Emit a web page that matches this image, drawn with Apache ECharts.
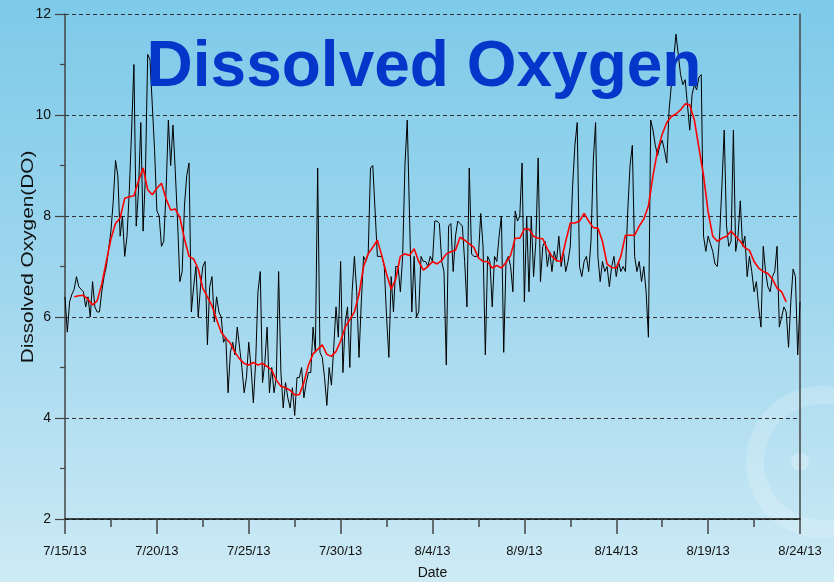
<!DOCTYPE html>
<html><head><meta charset="utf-8">
<script src="https://cdn.jsdelivr.net/npm/echarts/dist/echarts.min.js"></script>
<style>html,body{margin:0;padding:0;width:834px;height:582px;overflow:hidden}#c{width:834px;height:582px}</style>
</head><body><div id="c"></div><script>
// ---- data ----
const chartTitle = 'Dissolved Oxygen';
const yAxisTitle = 'Dissolved Oxygen(DO)';
const xAxisTitle = 'Date';
const startDateUTC = [2013, 6, 15];   // 7/15/13
const xMaxDays = 40;
const xTickDays = 5;
const yMin = 2, yMax = 12, yStep = 2;

// raw DO readings, one every 3 hours (0.125 day) from 7/15/13 00:00
const doStepDays = 0.125;
const doValues = [
 6.4,5.7,6.3,6.45,6.55,6.8,6.6,6.55,
 6.5,6.2,6.4,6.0,6.7,6.2,6.1,6.1,
 6.5,6.8,7.0,7.35,7.7,8.3,9.1,8.8,
 7.6,8.0,7.2,7.6,8.5,9.7,11.0,7.8,
 8.5,9.85,7.7,8.8,11.2,11.1,10.2,9.3,
 8.1,8.0,7.4,7.5,8.5,9.9,9.0,9.8,
 8.9,7.9,6.7,6.9,8.2,8.8,9.05,6.1,
 6.6,7.0,6.0,6.6,7.0,7.1,5.45,6.6,
 6.8,5.9,6.4,6.1,6.0,5.5,5.6,4.5,
 5.3,5.5,5.25,5.8,5.4,5.0,4.5,4.8,
 5.5,5.0,4.3,5.1,6.5,6.9,4.7,5.1,
 5.8,4.5,5.0,4.5,4.8,6.9,4.9,4.2,
 4.7,4.4,4.2,4.6,4.05,4.8,4.8,5.0,
 4.4,4.7,4.9,4.9,5.8,5.3,8.95,5.3,
 5.2,4.8,4.25,5.0,4.65,5.4,6.2,5.6,
 7.1,4.9,5.9,6.2,5.0,6.5,7.2,6.5,
 5.2,6.3,7.2,7.1,7.25,8.95,9.0,8.1,
 7.2,7.2,7.2,7.0,6.0,5.2,6.8,6.1,
 7.0,7.0,6.5,7.2,9.0,9.9,8.0,6.1,
 7.2,6.0,6.1,7.2,7.1,7.1,7.0,7.2,
 7.1,7.9,7.9,7.85,7.1,6.9,5.05,7.8,
 7.85,6.9,7.6,7.9,7.85,7.8,7.1,6.2,
 8.95,7.25,7.2,7.2,7.2,8.05,7.4,5.25,
 7.2,7.1,6.2,7.2,7.1,7.6,8.0,5.3,
 7.1,7.2,7.0,6.5,8.1,7.9,8.0,9.05,
 6.3,8.0,6.5,8.0,6.8,7.5,9.15,6.7,
 7.4,7.5,7.0,7.3,6.9,7.3,7.1,7.6,
 7.0,7.3,6.9,7.1,7.4,8.6,9.4,9.85,
 7.0,6.8,7.1,7.2,6.9,7.5,9.1,9.85,
 7.2,6.7,7.1,6.9,7.0,6.6,7.0,7.2,
 6.8,7.1,6.9,7.0,6.9,8.1,9.0,9.4,
 7.2,6.9,7.1,6.7,7.0,6.5,5.6,9.9,
 9.7,9.4,9.2,9.4,9.5,9.3,9.05,10.1,
 10.6,11.1,11.6,11.2,10.8,10.6,10.7,10.2,
 9.7,10.4,10.6,10.5,10.75,10.8,7.6,7.3,
 7.6,7.45,7.3,7.05,7.0,7.6,8.6,9.7,
 7.8,7.4,7.5,9.7,7.3,7.6,8.3,7.4,
 7.6,6.8,7.2,6.9,6.5,6.7,6.2,5.8,
 7.4,6.9,6.6,6.5,6.8,6.9,7.4,5.8,
 6.0,6.2,6.1,5.4,6.3,6.95,6.8,5.25,
 6.3
];

// daily moving average, every 6 hours (0.25 day) from 7/15/13 12:00
const maStartDay = 0.5;
const maStepDays = 0.25;
const maValues = [
 6.4,6.42,6.43,6.35,6.24,6.32,6.65,7.1,7.55,7.85,
 7.96,8.35,8.38,8.4,8.7,8.95,8.52,8.42,8.55,8.65,
 8.34,8.12,8.14,7.97,7.55,7.2,7.15,6.95,6.57,6.4,
 6.22,5.95,5.7,5.58,5.48,5.3,5.17,5.08,5.05,5.1,
 5.05,5.08,5.02,4.95,4.75,4.63,4.6,4.55,4.46,4.46,
 4.7,5.05,5.27,5.36,5.45,5.26,5.22,5.32,5.52,5.8,
 5.95,6.1,6.45,7.0,7.25,7.38,7.52,7.2,6.85,6.55,
 6.75,7.2,7.25,7.22,7.35,7.1,6.93,7.0,7.1,7.05,
 7.12,7.25,7.29,7.32,7.58,7.52,7.45,7.38,7.17,7.1,
 7.1,6.97,7.02,6.97,7.08,7.22,7.56,7.56,7.74,7.74,
 7.6,7.56,7.55,7.35,7.2,7.12,7.1,7.5,7.86,7.86,
 7.9,8.05,7.9,7.77,7.76,7.5,7.05,6.98,6.97,7.2,
 7.62,7.62,7.62,7.8,7.94,8.2,8.8,9.3,9.62,9.85,
 9.97,10.02,10.1,10.22,10.2,9.9,9.35,8.8,8.08,7.6,
 7.5,7.56,7.6,7.7,7.6,7.5,7.37,7.32,7.1,6.97,
 6.9,6.86,6.75,6.57,6.5,6.3
];

// ---- chart ----
function dayLabel(d){
  const dt = new Date(Date.UTC(startDateUTC[0], startDateUTC[1], startDateUTC[2] + Math.round(d)));
  return (dt.getUTCMonth()+1) + '/' + dt.getUTCDate() + '/' + String(dt.getUTCFullYear()).slice(2);
}
const doData = doValues.map((v,i)=>[i*doStepDays, v]);
const maData = maValues.map((v,i)=>[maStartDay + i*maStepDays, v]);

const FONT = '"Liberation Sans", Arial, sans-serif';
const chart = echarts.init(document.getElementById('c'), null, {renderer:'canvas'});
chart.setOption({
  animation:false,
  backgroundColor: new echarts.graphic.LinearGradient(0,0,0,1,[
    {offset:0,color:'#7dcae9'},{offset:0.5,color:'#a0d7ee'},{offset:1,color:'#cdeaf5'}]),
  grid:{left:65,right:34,top:14,bottom:63,containLabel:false,outerBoundsMode:'none'},
  graphic:[
    {type:'ring',shape:{cx:822,cy:462,r:76,r0:58},style:{fill:'rgba(255,255,255,0.18)'},z:-10,silent:true},
    {type:'circle',shape:{cx:800,cy:462,r:9},style:{fill:'rgba(255,255,255,0.25)'},z:-10,silent:true},
    {type:'text',x:424,y:68,z:100,
      style:{text:chartTitle,x:0,y:0,align:'center',verticalAlign:'middle',
      font:'bold 64px '+FONT,fill:'#0535c9'}},
    {type:'text',x:29,y:257,rotation:Math.PI/2,scaleX:1.3,scaleY:1,z:100,
      style:{text:yAxisTitle,x:0,y:0,align:'center',verticalAlign:'middle',
      font:'16px '+FONT,fill:'#111'}}
  ],
  xAxis:{type:'value',min:0,max:xMaxDays,interval:xTickDays,
    name:xAxisTitle,nameLocation:'middle',nameGap:47,
    nameTextStyle:{color:'#111',fontSize:14,fontFamily:FONT},
    axisLine:{show:true,onZero:false,lineStyle:{color:'#111',width:1.5}},
    axisTick:{show:true,inside:false,length:15,lineStyle:{color:'#444',width:1.5}},
    minorTick:{show:true,splitNumber:2,length:8,lineStyle:{color:'#444',width:1.5}},
    splitLine:{show:false},
    axisLabel:{margin:26,color:'#111',fontSize:13,fontFamily:FONT,
      formatter:(v)=>dayLabel(v)}
  },
  yAxis:[{type:'value',min:yMin,max:yMax,interval:yStep,position:'left',
    axisLine:{show:true,lineStyle:{color:'#444',width:1.5}},
    axisTick:{show:true,inside:false,length:10,lineStyle:{color:'#444',width:1.2}},
    minorTick:{show:true,splitNumber:2,length:5,lineStyle:{color:'#444',width:1.2}},
    splitLine:{show:true,lineStyle:{color:'#333',type:[4,3],width:1}},
    axisLabel:{margin:14,color:'#111',fontSize:14,fontFamily:FONT}
  },{type:'value',min:yMin,max:yMax,interval:yStep,position:'right',
    axisLine:{show:true,lineStyle:{color:'#444',width:1.5}},
    axisTick:{show:false},axisLabel:{show:false},splitLine:{show:false}
  }],
  series:[
    {type:'line',data:doData,showSymbol:false,symbol:'none',lineStyle:{color:'#000',width:1},z:2},
    {type:'line',data:maData,showSymbol:false,symbol:'none',lineStyle:{color:'#ff0000',width:1.6},z:3}
  ]
});
</script></body></html>
